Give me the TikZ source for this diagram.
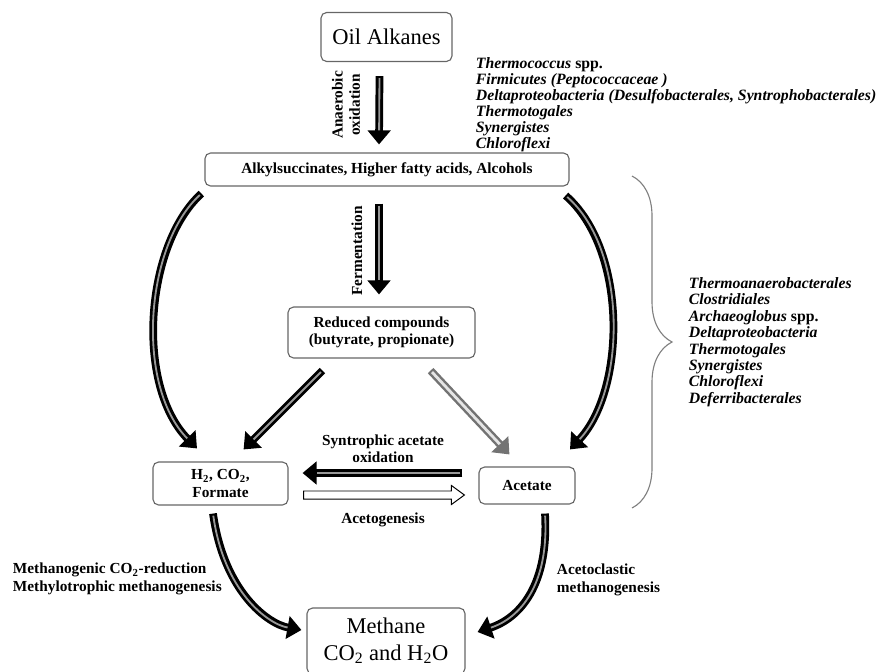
\documentclass[tikz,border=0pt]{standalone}
\usepackage{fontspec}
\setmainfont{Liberation Serif}
\usetikzlibrary{arrows.meta,calc,decorations.pathreplacing}

\begin{document}
\begin{tikzpicture}[x=0.025cm, y=-0.025cm,
  box/.style={draw=gray!80!black, rounded corners=4pt, line width=0.8pt, align=center, inner sep=2pt},
  lbl/.style={font=\bfseries\fontsize{10.9}{12.4}\selectfont, align=center},
  big/.style={font=\fontsize{16}{19}\selectfont},
  taxa/.style={font=\bfseries\fontsize{11.2}{11.4}\selectfont, align=left, anchor=west},
  fatarrow/.style={line width=5.5pt, -{Triangle[length=10pt,width=16pt]},
    postaction={draw, -, line width=1.3pt, black!40, shorten >=10pt, shorten <=1.5pt}},
  lightarrow/.style={black!55, line width=5.5pt, -{Triangle[length=10pt,width=16pt]},
    postaction={draw, -, line width=2pt, black!10, shorten >=10pt, shorten <=1.5pt}}]

% Frame of the figure
\useasboundingbox (0,0) rectangle (881,671);

% Boxes
\node[box, big, minimum width=3.275cm, minimum height=1.225cm] (oil) at (386.5,37) {Oil Alkanes};
\node[box, lbl, minimum width=9.1cm, minimum height=0.825cm] (alkyl) at (387,169.5) {Alkylsuccinates, Higher fatty acids, Alcohols};
\node[box, lbl, minimum width=4.675cm, minimum height=1.275cm] (reduced) at (381.5,332.5) {Reduced compounds\\(butyrate, propionate)};
\node[box, lbl, minimum width=3.375cm, minimum height=1.075cm] (gas) at (220.5,483.5) {H\textsubscript{2}, CO\textsubscript{2},\\Formate};
\node[box, lbl, minimum width=2.4cm, minimum height=0.925cm] (acetate) at (527,485.5) {Acetate};
\node[box, big, minimum width=3.95cm, minimum height=1.65cm] (methane) at (386,641) {Methane\\CO\textsubscript{2} and H\textsubscript{2}O};

% Process labels
\node[lbl, rotate=90] (aolbl) at (346,105) {Anaerobic\\oxidation};
\node[lbl, rotate=90] (fermlbl) at (357,251) {Fermentation};
\node[lbl] (satolbl) at (383,449) {Syntrophic acetate\\oxidation};
\node[lbl] (acglbl) at (383,520) {Acetogenesis};
\node[lbl, anchor=west, align=left] (mglbl) at (8,579) {Methanogenic CO\textsubscript{2}-reduction\\Methylotrophic methanogenesis};
\node[lbl, anchor=west, align=left] (aclbl) at (552,580) {Acetoclastic\\methanogenesis};

% Organisms
\node[taxa] (toptaxa) at (471,105) {\textit{Thermococcus} spp.\\
  \textit{Firmicutes (Peptococcaceae )}\\
  \textit{Deltaproteobacteria (Desulfobacterales, Syntrophobacterales)}\\
  \textit{Thermotogales}\\
  \textit{Synergistes}\\
  \textit{Chloroflexi}};
\node[taxa, font=\bfseries\fontsize{11.2}{11.7}\selectfont] (sidetaxa) at (684,342) {\textit{Thermoanaerobacterales}\\
  \textit{Clostridiales}\\
  \textit{Archaeoglobus} spp.\\
  \textit{Deltaproteobacteria}\\
  \textit{Thermotogales}\\
  \textit{Synergistes}\\
  \textit{Chloroflexi}\\
  \textit{Deferribacterales}};

% Brace
\draw[gray, line width=0.8pt, decorate, decoration={brace, amplitude=1cm}] (632,176) -- (632,508);

% Straight arrows
\draw[fatarrow] ($(oil.south)+(-7,14)$) -- ($(alkyl.north)+(-8,-8)$);
\draw[fatarrow] ($(alkyl.south)+(-8,17)$) -- ($(reduced.north)+(-2.5,-12)$);
\draw[fatarrow] ($(reduced.south west)+(35,12)$) -- ($(gas.north east)+(-45,-12)$);
\draw[lightarrow] ($(reduced.south east)+(-45,12)$) -- ($(acetate.north west)+(31,-12)$);
\draw[fatarrow] ($(acetate.west)+(-16,-12.5)$) -- ($(gas.east)+(14,-10.5)$);

% Acetogenesis (open arrow)
\draw[line width=0.7pt, fill=white]
  ($(gas.east)+(15,7.5)$) -- ($(acetate.west)+(-27,5.5)$) -- ($(acetate.west)+(-27,0)$)
  -- ($(acetate.west)+(-14,9.5)$) -- ($(acetate.west)+(-27,19)$) -- ($(acetate.west)+(-27,13.5)$)
  -- ($(gas.east)+(15,15.5)$) -- cycle;

% Curved arrows
\draw[fatarrow] ($(alkyl.south west)+(-3,7)$) .. controls (145,245) and (135,385) .. ($(gas.north)+(-23.5,-13)$);
\draw[fatarrow] ($(alkyl.south east)+(-4,9)$) .. controls (628,250) and (626,390) .. ($(acetate.north)+(43,-17)$);
\draw[fatarrow] ($(gas.south)+(-7.5,8)$) .. controls (224,592) and (268,624) .. ($(methane.west)+(-5,-11)$);
\draw[fatarrow] ($(acetate.south)+(18,9)$) .. controls (549,585) and (520,618) .. ($(methane.east)+(12,-9)$);

\end{tikzpicture}
\end{document}
